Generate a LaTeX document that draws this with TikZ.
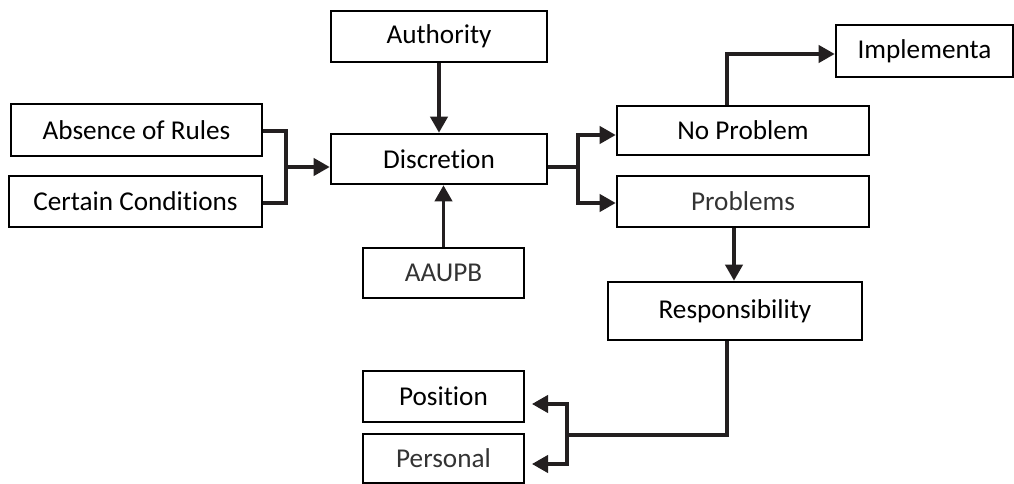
\documentclass[tikz,border=0pt]{standalone}
\usepackage{fontspec}
\setmainfont[Ligatures=NoCommon]{Carlito}
\usepackage{tikz}
\usetikzlibrary{positioning, arrows.meta}
\definecolor{linecol}{HTML}{231F20}
\definecolor{softtext}{HTML}{333333}

\begin{document}
\begin{tikzpicture}[x=0.75pt, y=-0.75pt,
    box/.style={draw=black, line width=2pt, inner sep=0pt, font=\fontsize{20.4}{24}\selectfont},
    link/.style={draw=linecol, line width=2.3pt},
    arr/.style={link, -{Triangle[length=12pt, width=13pt]}}]
    \useasboundingbox (0,0) rectangle (1014,484);
    \node[box, minimum width=216*0.75pt, minimum height=51*0.75pt] (auth) at (439,36.5) {Authority};
    \node[box, minimum width=216*0.75pt, minimum height=50*0.75pt] (disc) at (439,159) {Discretion};
    \node[box, minimum width=251*0.75pt, minimum height=52*0.75pt] (absence) at (136.5,130) {Absence of Rules};
    \node[box, minimum width=253*0.75pt, minimum height=51*0.75pt] (certain) at (135.5,201.5) {Certain Conditions};
    \node[box, minimum width=161*0.75pt, minimum height=50*0.75pt, text=softtext] (aaupb) at (443.5,273) {AAUPB};
    \node[box, minimum width=252*0.75pt, minimum height=49*0.75pt] (noprob) at (743,130.5) {No Problem};
    \node[box, minimum width=252*0.75pt, minimum height=51*0.75pt, text=softtext] (probs) at (743,201.5) {Problems};
    \node[box, minimum width=177*0.75pt, minimum height=52*0.75pt] (impl) at (924.5,51) {Implementa};
    \node[box, minimum width=254*0.75pt, minimum height=58*0.75pt] (resp) at (735,311) {Responsibility};
    \node[box, minimum width=161*0.75pt, minimum height=51*0.75pt] (pos) at (443.5,396.5) {Position};
    \node[box, minimum width=161*0.75pt, minimum height=49*0.75pt, text=softtext] (pers) at (443.5,458.5) {Personal};
    % joints of the brackets
    \coordinate (jl) at (286,167);
    \coordinate (jr) at (578,167);
    \coordinate (jb) at (567,435);
    \draw[arr] (auth) -- (disc);
    \draw[arr] (aaupb.north) -- (aaupb.north |- disc.south);
    \draw[link] (absence.east |- 0,131) -| (jl) |- (certain.east |- 0,203);
    \draw[arr] (jl) -- (jl -| disc.west);
    \draw[link] (disc.east |- jr) -- (jr);
    \draw[arr] (jr) |- (noprob.west |- 0,135);
    \draw[arr] (jr) |- (probs.west |- 0,203);
    \draw[arr] ([xshift=-12pt]noprob.north) |- (impl.west |- 0,54);
    \draw[arr] ([xshift=-6.75pt]probs.south) -- ([xshift=-6.75pt]probs.south |- resp.north);
    \draw[link] (resp.south -| 727,0) |- (jb);
    \draw[arr, shorten >=5pt] (jb) |- (pos.east |- 0,404);
    \draw[arr, shorten >=5pt] (jb) |- (pers.east |- 0,464);
\end{tikzpicture}
\end{document}
